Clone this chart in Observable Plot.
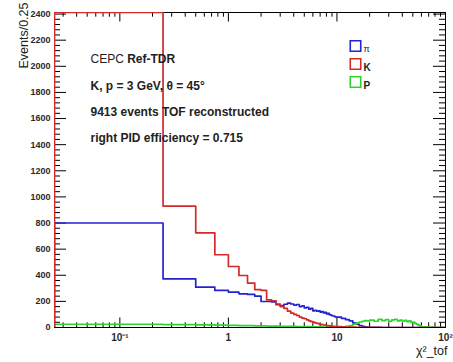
<!DOCTYPE html>
<html>
<head>
<meta charset="utf-8">
<script src="https://cdn.jsdelivr.net/npm/d3@7"></script>
<script src="https://cdn.jsdelivr.net/npm/@observablehq/plot@0.6"></script>
<style>
  html, body { margin: 0; padding: 0; background: #fff; }
  #chart svg { display: block; }
</style>
</head>
<body>
<div id="chart"></div>
<script>
// chi2_tof histogram bin edges: 0.25 wide up to 10, then wider bins in the tail
const binEdges = [
  0, 0.25, 0.5, 0.75, 1, 1.25, 1.5, 1.75, 2, 2.25, 2.5, 2.75, 3, 3.25, 3.5, 3.75,
  4, 4.25, 4.5, 4.75, 5, 5.25, 5.5, 5.75, 6, 6.25, 6.5, 6.75, 7, 7.25, 7.5, 7.75,
  8, 8.25, 8.5, 8.75, 9, 9.25, 9.5, 9.75, 10,
  11, 12, 13, 14, 15, 16, 17, 18, 19, 20,
  22, 24, 26, 28, 30, 32, 34, 36, 38, 40, 42, 44, 46, 48, 50, 52, 54, 56, 58, 60,
  70, 80, 90, 100
];

// events per 0.25 in each bin, one array per hypothesis
const pionCounts = [
  800, 373, 309, 284, 271, 258, 253, 240, 199, 199, 196, 175, 168, 178, 186, 180,
  172, 176, 160, 165, 150, 155, 140, 146, 128, 132, 125, 128, 118, 122, 112, 116,
  104, 108, 98, 95, 90, 88, 84, 80,
  80, 70, 60, 50, 35, 25, 15, 8, 5, 3,
  2, 1, 1, 0, 0, 0, 0, 0, 0, 0, 0, 0, 0, 0, 0, 0, 0, 0, 0, 0,
  0, 0, 0, 0
];
const kaonCounts = [
  3300, 930, 725, 557, 467, 398, 340, 290, 285, 212, 205, 180, 160, 146, 125, 110,
  100, 92, 80, 72, 67, 58, 50, 45, 41, 36, 32, 28, 25, 22, 19, 18,
  15, 14, 12, 10, 9, 9, 8, 7,
  6, 5, 4, 3, 3, 2, 2, 1, 1, 1,
  1, 1, 0, 0, 0, 0, 0, 0, 0, 0, 0, 0, 0, 0, 0, 0, 0, 0, 0, 0,
  0, 0, 0, 0
];
const protonCounts = [
  25, 22, 20, 18, 16, 15, 14, 12, 12, 11, 10, 10, 9, 9, 8, 8,
  8, 7, 7, 7, 6, 6, 6, 6, 5, 5, 5, 5, 5, 5, 4, 4,
  4, 4, 4, 4, 4, 4, 4, 4,
  4, 5, 8, 14, 25, 35, 42, 48, 52, 50,
  56, 48, 62, 52, 60, 47, 58, 63, 50, 57, 48, 55, 45, 50, 40, 42, 32, 25, 18, 12,
  5, 1, 0, 0
];

const seriesNames = ["π", "K", "P"];
const seriesColors = ["#2323d2", "#d42a2a", "#2ed42e"];
const annotationLines = [
  "K, p = 3 GeV, θ = 45°",
  "9413 events TOF reconstructed",
  "right PID efficiency = 0.715"
];

const xTickValues = [0.1, 1, 10, 100];
const xTickLabels = ["10⁻¹", "1", "10", "10²"];
const yTickValues = [0, 200, 400, 600, 800, 1000, 1200, 1400, 1600, 1800, 2000, 2200, 2400];

const xDomain = [0.025, 100];
const yDomain = [0, 2412];
const font = "'Liberation Sans', Arial, Helvetica, sans-serif";

const W = 453, H = 362;
const mL = 54, mR = 8, mT = 12, mB = 35;
const frameW = W - mL - mR, frameH = H - mT - mB;

// ROOT-style outline: rise from zero at the first edge, step along bins, fall to zero at the end;
// values beyond the frame are drawn along the frame edge
function outline(counts) {
  const clampX = (x) => Math.max(x, xDomain[0]);
  const clampY = (y) => Math.min(y, yDomain[1]);
  const pts = [{x: clampX(binEdges[0]), y: 0}];
  counts.forEach((c, i) => {
    pts.push({x: clampX(binEdges[i]), y: clampY(c)});
    pts.push({x: clampX(binEdges[i + 1]), y: clampY(c)});
  });
  pts.push({x: binEdges[binEdges.length - 1], y: 0});
  return pts;
}

// tick positions
const yMinor = d3.range(0, 2401, 40).filter((v) => v % 200 !== 0);
const xMinor = [];
[0.01, 0.1, 1, 10].forEach((dec) => {
  for (let k = 2; k <= 9; k++) {
    const v = +(k * dec).toPrecision(3);
    if (v >= xDomain[0] && v <= xDomain[1]) xMinor.push(v);
  }
});

const majorLen = 12, minorLen = 6, xMajorLen = 9.5, xMinorLen = 4.7;
const tickStyle = {stroke: "black", strokeWidth: 1};

const marks = [
  Plot.frame({stroke: "black", strokeWidth: 1}),
  // y ticks, left and right, pointing inward
  Plot.tickY(yTickValues, {y: (d) => d, insetRight: frameW - majorLen, ...tickStyle}),
  Plot.tickY(yMinor, {y: (d) => d, insetRight: frameW - minorLen, ...tickStyle}),
  Plot.tickY(yTickValues, {y: (d) => d, insetLeft: frameW - majorLen, ...tickStyle}),
  Plot.tickY(yMinor, {y: (d) => d, insetLeft: frameW - minorLen, ...tickStyle}),
  // x ticks, bottom and top, pointing inward
  Plot.tickX(xTickValues, {x: (d) => d, insetTop: frameH - xMajorLen, ...tickStyle}),
  Plot.tickX(xMinor, {x: (d) => d, insetTop: frameH - xMinorLen, ...tickStyle}),
  Plot.tickX(xTickValues, {x: (d) => d, insetBottom: frameH - xMajorLen, ...tickStyle}),
  Plot.tickX(xMinor, {x: (d) => d, insetBottom: frameH - xMinorLen, ...tickStyle}),

  // histograms
  Plot.line(outline(pionCounts), {x: "x", y: "y", stroke: seriesColors[0], strokeWidth: 1.7, clip: true}),
  Plot.line(outline(protonCounts), {x: "x", y: "y", stroke: seriesColors[2], strokeWidth: 1.7, clip: true}),
  Plot.line(outline(kaonCounts), {x: "x", y: "y", stroke: seriesColors[1], strokeWidth: 1.7, clip: true}),

  // tick labels
  Plot.text(yTickValues, {y: (d) => d, text: (d) => String(d), frameAnchor: "left", textAnchor: "end",
    dx: -4, fontSize: 9, fontWeight: "bold", fill: "#2a2a2a", fontFamily: font}),
  Plot.text(xTickValues, {x: (d) => d, text: (d, i) => xTickLabels[i], frameAnchor: "bottom",
    dy: 13, fontSize: 10, fontWeight: "bold", fill: "#2a2a2a", fontFamily: font}),

  // axis titles
  Plot.text(["Events/0.25"], {frameAnchor: "top-left", dx: -27, dy: -10, rotate: -90,
    textAnchor: "end", lineAnchor: "bottom", fontSize: 12.5, fill: "#222", fontFamily: font}),
  Plot.text(["χ²_tof"], {frameAnchor: "bottom-right", dx: 2, dy: 27, textAnchor: "end",
    fontSize: 12.5, fill: "#222", fontFamily: font}),

  // annotations
  Plot.text(["CEPC"], {frameAnchor: "top-left", dx: 36, dy: 42, textAnchor: "start",
    fontSize: 12, fill: "#222", fontFamily: font}),
  Plot.text(["Ref-TDR"], {frameAnchor: "top-left", dx: 72.7, dy: 42, textAnchor: "start",
    fontSize: 12, fontWeight: "bold", fill: "#222", fontFamily: font}),
  ...annotationLines.map((t, i) => Plot.text([t], {frameAnchor: "top-left", dx: 36, dy: 69 + 26 * i,
    textAnchor: "start", fontSize: 12, fontWeight: "bold", fill: "#222", fontFamily: font})),

  // legend
  ...seriesNames.map((name, i) => Plot.dot([name], {frameAnchor: "top-left", dx: 301, dy: 33.5 + 18 * i,
    symbol: "square", r: 5.9, fill: "none", stroke: seriesColors[i], strokeWidth: 1.6})),
  ...seriesNames.map((name, i) => Plot.text([name], {frameAnchor: "top-left", dx: 309, dy: 33.5 + 18 * i,
    text: (d) => d, textAnchor: "start", fontSize: i === 0 ? 9 : 10, fontWeight: i === 0 ? "normal" : "bold",
    fill: "#222", fontFamily: font}))
];

const chart = Plot.plot({
  width: W,
  height: H,
  marginLeft: mL,
  marginRight: mR,
  marginTop: mT,
  marginBottom: mB,
  style: {background: "white", fontFamily: font},
  x: {type: "log", domain: xDomain, axis: null},
  y: {domain: yDomain, axis: null},
  marks
});
document.getElementById("chart").appendChild(chart);
</script>
</body>
</html>
